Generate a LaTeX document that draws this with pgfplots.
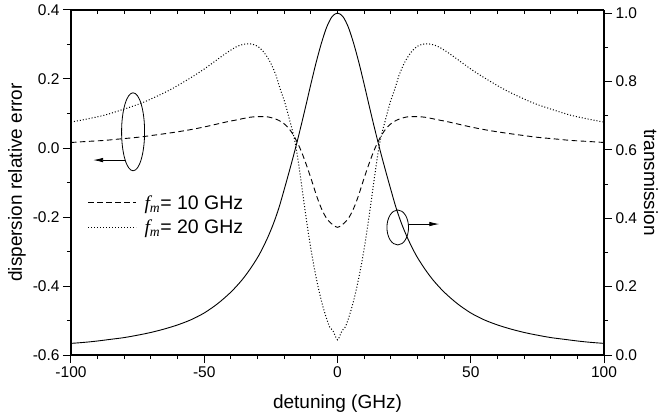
\documentclass[border=0pt]{standalone}
\usepackage{fontspec}
\setmainfont{Liberation Sans}
\newfontfamily\tnr{Liberation Serif}
\usepackage{pgfplots}
\pgfplotsset{compat=1.18}
\usepackage{pgfplotstable}
\usetikzlibrary{arrows.meta}

% transmission (right axis)
\pgfplotstableread{
x T
-100 0.034
-95 0.037
-90 0.041
-85 0.046
-80 0.051
-75 0.058
-70 0.066
-65 0.076
-60 0.088
-55 0.103
-50 0.123
-45 0.150
-40 0.184
-36 0.218
-33 0.249
-30 0.285
-28 0.314
-26 0.347
-24 0.385
-22 0.430
-20 0.484
-18 0.540
-16 0.598
-14 0.660
-12 0.725
-10 0.792
-8 0.856
-6 0.913
-4 0.960
-2 0.990
0 1.000
2 0.990
4 0.960
6 0.913
8 0.856
10 0.792
12 0.725
14 0.660
16 0.598
18 0.540
20 0.484
22 0.430
24 0.385
26 0.347
28 0.314
30 0.285
33 0.249
36 0.218
40 0.184
45 0.150
50 0.123
55 0.103
60 0.088
65 0.076
70 0.066
75 0.058
80 0.051
85 0.046
90 0.041
95 0.037
100 0.034
}\trans

% f_m = 10 GHz
\pgfplotstableread{
x e
-100 0.016
-94 0.019
-87.5 0.022
-82 0.026
-75 0.031
-70 0.036
-62.5 0.044
-56 0.052
-50 0.061
-42 0.075
-37.5 0.082
-33 0.089
-30 0.091
-28 0.091
-26 0.090
-24 0.086
-22 0.080
-20 0.070
-19 0.063
-18 0.054
-17 0.043
-16 0.030
-15 0.015
-14 -0.002
-13 -0.021
-12 -0.042
-11 -0.064
-10 -0.087
-9 -0.111
-8 -0.135
-7 -0.157
-6 -0.176
-5 -0.192
-4 -0.205
-3 -0.214
-2 -0.221
-1 -0.227
0 -0.230
1 -0.227
2 -0.221
3 -0.214
4 -0.205
5 -0.192
6 -0.176
7 -0.157
8 -0.135
9 -0.111
10 -0.087
11 -0.064
12 -0.042
13 -0.021
14 -0.002
15 0.015
16 0.030
17 0.043
18 0.054
19 0.063
20 0.070
22 0.080
24 0.086
26 0.090
28 0.091
30 0.091
33 0.089
37.5 0.082
42 0.075
50 0.061
56 0.052
62.5 0.044
70 0.036
75 0.031
82 0.026
87.5 0.022
94 0.019
100 0.016
}\ften

% f_m = 20 GHz
\pgfplotstableread{
x e
-100 0.075
-94 0.084
-87.5 0.095
-82 0.108
-75 0.126
-70 0.142
-62.5 0.170
-55 0.204
-50 0.229
-45 0.257
-41 0.279
-38 0.293
-36 0.299
-34 0.302
-32 0.301
-30 0.295
-29 0.289
-28 0.281
-27 0.271
-26 0.259
-25 0.245
-24 0.228
-23 0.209
-22 0.183
-21 0.160
-20 0.138
-19 0.111
-18 0.082
-17 0.053
-16 0.020
-15 -0.025
-14 -0.078
-13 -0.134
-12 -0.190
-11 -0.243
-10 -0.292
-9 -0.336
-8 -0.376
-7 -0.412
-6 -0.444
-5 -0.472
-4 -0.497
-3 -0.518
-2.5 -0.523
-2 -0.527
-1.5 -0.533
-1 -0.542
-0.5 -0.551
0 -0.556
0.5 -0.551
1 -0.542
1.5 -0.533
2 -0.527
2.5 -0.523
3 -0.518
4 -0.497
5 -0.472
6 -0.444
7 -0.412
8 -0.376
9 -0.336
10 -0.292
11 -0.243
12 -0.190
13 -0.134
14 -0.078
15 -0.025
16 0.020
17 0.053
18 0.082
19 0.111
20 0.138
21 0.160
22 0.183
23 0.209
24 0.228
25 0.245
26 0.259
27 0.271
28 0.281
29 0.289
30 0.295
32 0.301
34 0.302
36 0.299
38 0.293
41 0.279
45 0.257
50 0.229
55 0.204
62.5 0.170
70 0.142
75 0.126
82 0.108
87.5 0.095
94 0.084
100 0.075
}\ftwenty

\newcommand{\fm}{{\tnr\itshape f}\textsubscript{\tnr\itshape m}}

\begin{document}
\begin{tikzpicture}
\useasboundingbox (-71pt,-61pt) rectangle (587pt,355pt);
\pgfplotsset{
  every axis/.append style={
    scale only axis, width=533pt, height=345pt,
    xmin=-100, xmax=100,
    axis line style={-, line width=1.2pt},
    every tick/.style={black, line width=1pt},
    major tick length=8pt, minor tick length=4pt,
    tick label style={font=\fontsize{15.5}{17}\selectfont},
    label style={font=\fontsize{19}{22}\selectfont},
  }
}
\begin{axis}[
  axis x line*=bottom, axis y line*=left,
  ymin=-0.6, ymax=0.4,
  xtick={-100,-50,0,50,100}, xticklabels={-100,-50,0,50,100},
  minor x tick num=4,
  ytick={-0.6,-0.4,-0.2,0,0.2,0.4},
  yticklabels={-0.6,-0.4,-0.2,0.0,0.2,0.4},
  minor y tick num=1,
  tick align=outside,
  xlabel={detuning (GHz)},
  xlabel style={yshift=-10pt},
  ylabel={dispersion relative error},
  legend cell align=left,
  legend style={draw=none, fill=none, at={(0.025,0.475)}, anchor=north west,
    font=\fontsize{19.5}{22}\selectfont, row sep=5pt},
  legend image code/.code={\draw[#1] (0pt,0pt) -- (48pt,0pt); \path (54pt,0pt);},
]
\addplot[black, line width=0.9pt, dash pattern=on 5.5pt off 3.5pt, smooth] table {\ften};
\addlegendentry{\fm= 10 GHz}
\addplot[black, line width=1pt, dash pattern=on 1pt off 2pt, smooth] table {\ftwenty};
\addlegendentry{\fm= 20 GHz}
\draw[line width=0.8pt] (axis cs:-76.7,0.047) ellipse [x radius=11.5pt, y radius=39pt];
\draw[line width=0.8pt, -{Latex[length=10pt,width=4.5pt]}] (axis cs:-79.7,-0.035) -- (axis cs:-91.7,-0.035);
\end{axis}

\begin{axis}[
  axis y line*=right, axis x line=none,
  ymin=0, ymax=1.009,
  ytick={0,0.2,0.4,0.6,0.8,1},
  yticklabels={0.0,0.2,0.4,0.6,0.8,1.0},
  minor y tick num=1,
  tick align=outside,
  ylabel={transmission},
  ylabel style={rotate=180},
]
\addplot[black, line width=0.9pt, smooth] table {\trans};
\draw[line width=0.8pt] (axis cs:22.6,0.373) ellipse [x radius=10.8pt, y radius=17.5pt];
\draw[line width=0.8pt, -{Latex[length=10pt,width=4.5pt]}] (axis cs:26.8,0.383) -- (axis cs:38.2,0.383);
\end{axis}

\begin{axis}[
  axis x line*=top, axis y line=none,
  ymin=0, ymax=1,
  xtick={-100,-50,0,50,100}, xticklabels={},
  minor x tick num=4,
  tick align=inside,
  major tick length=4pt,
]
\end{axis}
\end{tikzpicture}
\end{document}
